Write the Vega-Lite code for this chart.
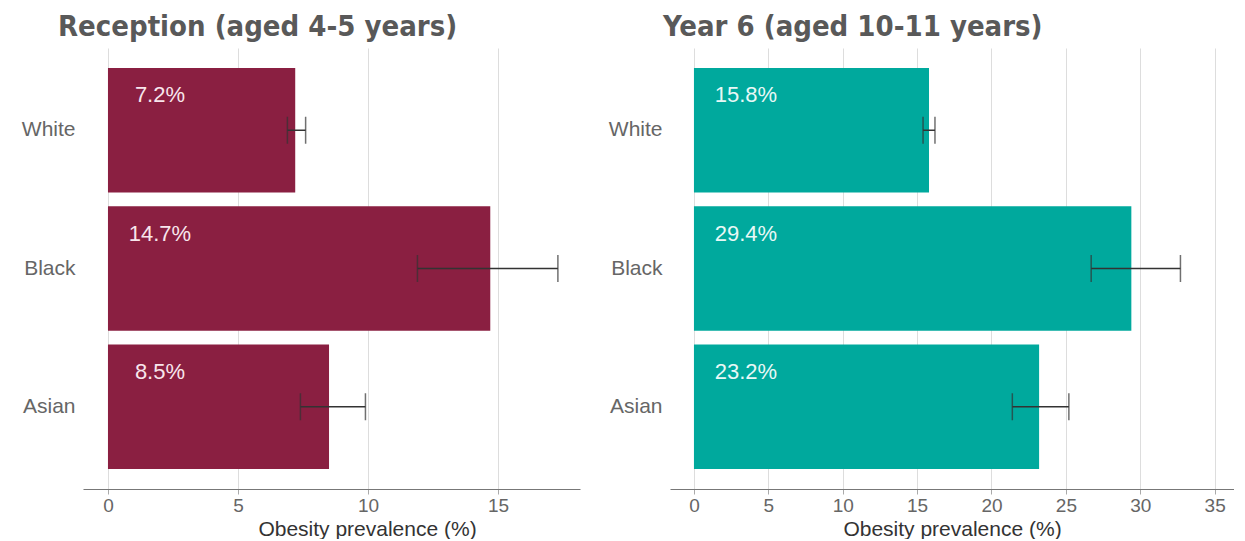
{
  "$schema": "https://vega.github.io/schema/vega-lite/v6.json",
  "background": "white",
  "padding": {"left": 21, "top": 13, "right": 0, "bottom": 0},
  "spacing": 28,
  "datasets": {
    "reception": [
      {"ethnicity": "White", "value": 7.2, "lo": 6.9, "hi": 7.6},
      {"ethnicity": "Black", "value": 14.7, "lo": 11.9, "hi": 17.3},
      {"ethnicity": "Asian", "value": 8.5, "lo": 7.4, "hi": 9.9}
    ],
    "year6": [
      {"ethnicity": "White", "value": 15.8, "lo": 15.4, "hi": 16.2},
      {"ethnicity": "Black", "value": 29.4, "lo": 26.7, "hi": 32.7},
      {"ethnicity": "Asian", "value": 23.2, "lo": 21.4, "hi": 25.2}
    ]
  },
  "hconcat": [
    {
      "title": {"text": "Reception (aged 4-5 years)", "dx": -25},
      "width": 497,
      "height": 441,
      "data": {"name": "reception"},
      "transform": [{"calculate": "format(datum.value, '.1f') + '%'", "as": "label"}],
      "encoding": {
        "y": {
          "field": "ethnicity",
          "type": "nominal",
          "sort": ["White", "Black", "Asian"],
          "scale": {"paddingInner": 0.1, "paddingOuter": 0.145},
          "axis": {"title": null}
        }
      },
      "layer": [
        {
          "mark": {"type": "bar", "color": "#8a1f41"},
          "encoding": {
            "x": {
              "field": "value",
              "type": "quantitative",
              "scale": {"domain": [-0.96, 18.15], "nice": false, "zero": false},
              "axis": {"values": [0, 5, 10, 15], "title": "Obesity prevalence (%)", "titleX": 284}
            }
          }
        },
        {
          "mark": {"type": "rule", "color": "#333333", "strokeWidth": 1.5},
          "encoding": {"x": {"field": "lo", "type": "quantitative"}, "x2": {"field": "hi"}}
        },
        {
          "mark": {"type": "tick", "color": "#333333", "thickness": 1.5, "size": 27},
          "encoding": {"x": {"field": "lo", "type": "quantitative"}}
        },
        {
          "mark": {"type": "tick", "color": "#333333", "thickness": 1.5, "size": 27},
          "encoding": {"x": {"field": "hi", "type": "quantitative"}}
        },
        {
          "mark": {"type": "text", "align": "center", "baseline": "middle", "dx": 52, "dy": -35, "fontSize": 22, "color": "#f8e6ec"},
          "encoding": {"x": {"datum": 0, "type": "quantitative"}, "text": {"field": "label"}}
        }
      ]
    },
    {
      "title": {"text": "Year 6 (aged 10-11 years)", "dx": -7},
      "width": 564,
      "height": 441,
      "data": {"name": "year6"},
      "transform": [{"calculate": "format(datum.value, '.1f') + '%'", "as": "label"}],
      "encoding": {
        "y": {
          "field": "ethnicity",
          "type": "nominal",
          "sort": ["White", "Black", "Asian"],
          "scale": {"paddingInner": 0.1, "paddingOuter": 0.145},
          "axis": {"title": null}
        }
      },
      "layer": [
        {
          "mark": {"type": "bar", "color": "#00a99d"},
          "encoding": {
            "x": {
              "field": "value",
              "type": "quantitative",
              "scale": {"domain": [-1.61, 36.3], "nice": false, "zero": false},
              "axis": {"values": [0, 5, 10, 15, 20, 25, 30, 35], "title": "Obesity prevalence (%)"}
            }
          }
        },
        {
          "mark": {"type": "rule", "color": "#333333", "strokeWidth": 1.5},
          "encoding": {"x": {"field": "lo", "type": "quantitative"}, "x2": {"field": "hi"}}
        },
        {
          "mark": {"type": "tick", "color": "#333333", "thickness": 1.5, "size": 27},
          "encoding": {"x": {"field": "lo", "type": "quantitative"}}
        },
        {
          "mark": {"type": "tick", "color": "#333333", "thickness": 1.5, "size": 27},
          "encoding": {"x": {"field": "hi", "type": "quantitative"}}
        },
        {
          "mark": {"type": "text", "align": "center", "baseline": "middle", "dx": 52, "dy": -35, "fontSize": 22, "color": "#e8f8f6"},
          "encoding": {"x": {"datum": 0, "type": "quantitative"}, "text": {"field": "label"}}
        }
      ]
    }
  ],
  "config": {
    "font": "Liberation Sans",
    "view": {"stroke": null},
    "title": {
      "font": "DejaVu Sans Condensed",
      "fontSize": 29,
      "fontWeight": "bold",
      "color": "#595959",
      "anchor": "start",
      "frame": "group",
      "offset": 6
    },
    "axisX": {
      "grid": true,
      "gridColor": "#dddddd",
      "gridWidth": 1,
      "domainColor": "#777777",
      "domainWidth": 1.2,
      "tickColor": "#aaaaaa",
      "tickSize": 5,
      "labelFontSize": 19,
      "labelColor": "#666666",
      "labelPadding": 2,
      "titleFontSize": 21,
      "titleFontWeight": "normal",
      "titleColor": "#333333",
      "titlePadding": 3
    },
    "axisY": {
      "domain": false,
      "ticks": false,
      "grid": false,
      "labelFontSize": 21,
      "labelColor": "#666666",
      "labelPadding": 8
    }
  }
}
